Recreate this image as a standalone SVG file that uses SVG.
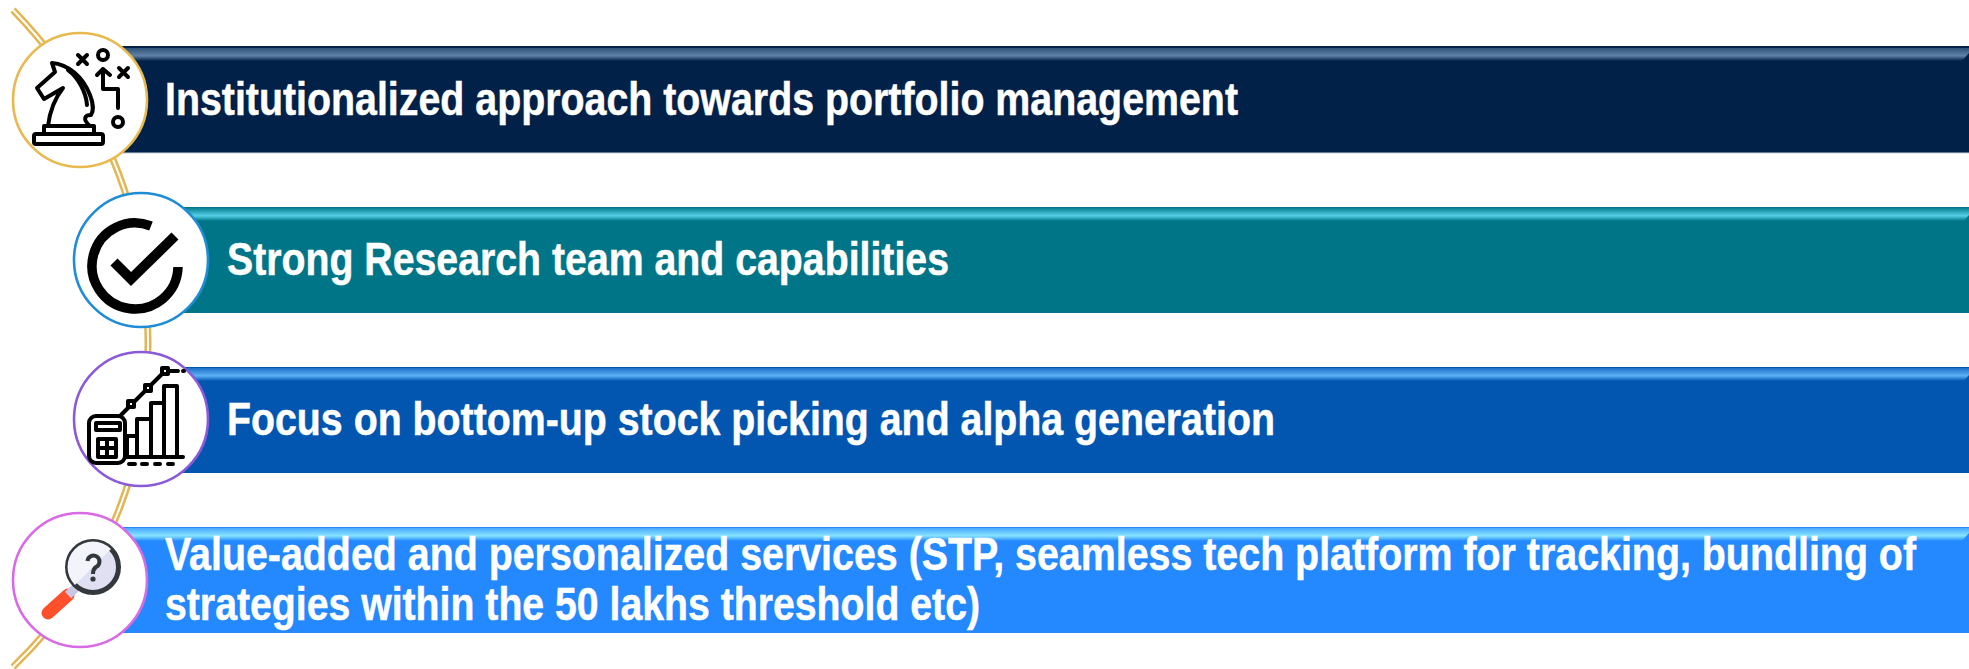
<svg xmlns="http://www.w3.org/2000/svg" width="1969" height="669" viewBox="0 0 1969 669">
<defs>
<linearGradient id="g1" x1="0" y1="0" x2="0" y2="1"><stop offset="0" stop-color="#2f5378"/><stop offset=".6" stop-color="#5f82a6"/><stop offset="1" stop-color="#012148"/></linearGradient>
<linearGradient id="g2" x1="0" y1="0" x2="0" y2="1"><stop offset="0" stop-color="#087f92"/><stop offset=".6" stop-color="#55d0e6"/><stop offset="1" stop-color="#007587"/></linearGradient>
<linearGradient id="g3" x1="0" y1="0" x2="0" y2="1"><stop offset="0" stop-color="#1c70c8"/><stop offset=".6" stop-color="#5cb0f5"/><stop offset="1" stop-color="#0256b0"/></linearGradient>
<linearGradient id="g4" x1="0" y1="0" x2="0" y2="1"><stop offset="0" stop-color="#4aa8ff"/><stop offset=".6" stop-color="#86e4ff"/><stop offset="1" stop-color="#2488fe"/></linearGradient>
</defs>
<style>
.t{font-family:"Liberation Sans",Arial,sans-serif;font-weight:700;fill:#fff;stroke:#fff;stroke-width:.5px;font-size:47px}
.ring{fill:#fff;stroke-width:2.6}
.ic{fill:none;stroke:#000;stroke-width:4;stroke-linejoin:round;stroke-linecap:round}
.arc{fill:none}
</style>
<g id="connectors">
<path class="arc" d="M13 10 Q148 150 148 340 Q150 535 13 667" stroke="#e2b654" stroke-width="7"/>
<path class="arc" d="M13 10 Q148 150 148 340 Q150 535 13 667" stroke="#fff" stroke-width="2"/>
</g>
<g id="node1">
<rect x="120" y="46" width="1849" height="107" fill="#012148"/>
<rect x="120" y="48" width="1849" height="13" fill="url(#g1)"/>
<path d="M1962 61L1969 53V61Z" fill="#012148"/>
<rect x="120" y="152.500" width="1849" height="1" fill="#c9d2de"/>
<circle class="ring" cx="80" cy="100" r="67" stroke="#e8b94e"/>
<g class="ic">
<rect x="34" y="134" width="69" height="10" rx="2"/>
<path d="M44 134V126H94V134"/>
<path d="M48 126C50 110 55 98 63 88L44 99L37 88L55 72L52 63C68 64 83 77 90 95C94 105 93 112 91 115C85 115 82 119 90 126"/>
<path d="M68 70C78 77 86 92 87 105"/>
<path d="M78 55L87 64M87 55L78 64M119 68L128 77M128 68L119 77"/>
<circle cx="103" cy="55" r="5"/>
<circle cx="118" cy="122" r="5"/>
<path d="M103 89V69M97 75L103 69L110 75M103 89H118V108"/>
</g>
<text class="t" x="165" y="115" textLength="1073" lengthAdjust="spacingAndGlyphs">Institutionalized approach towards portfolio management</text>
</g>
<g id="node2">
<rect x="180" y="207" width="1789" height="106" fill="#007587"/>
<rect x="180" y="208" width="1789" height="13" fill="url(#g2)"/>
<path d="M1964 221L1969 215V221Z" fill="#007587"/>
<circle class="ring" cx="141" cy="260" r="67" stroke="#1f8dd6"/>
<path d="M151 226A43 43 0 1 0 178 267" fill="none" stroke="#000" stroke-width="9.500"/>
<path d="M114 262L131 279L175 236" fill="none" stroke="#000" stroke-width="10"/>
<text class="t" x="227" y="275" textLength="722" lengthAdjust="spacingAndGlyphs">Strong Research team and capabilities</text>
</g>
<g id="node3">
<rect x="180" y="367" width="1789" height="106" fill="#0256b0"/>
<rect x="180" y="368" width="1789" height="13" fill="url(#g3)"/>
<path d="M1964 381L1969 375V381Z" fill="#0256b0"/>
<circle class="ring" cx="141" cy="419" r="67" stroke="#8a5ad8"/>
<g class="ic">
<rect x="89" y="416" width="36" height="47" rx="7"/>
<rect x="96" y="423" width="24" height="7"/>
<rect x="98" y="439" width="18" height="18"/>
<path d="M107 439V457M98 448H116"/>
<path d="M125 457H183"/>
<path d="M129 464H135M142 464H147M155 464H160M168 464H173"/>
<rect x="127" y="436" width="10" height="21"/>
<rect x="137" y="419" width="14" height="38"/>
<rect x="151" y="403" width="13" height="54"/>
<rect x="164" y="386" width="13" height="71"/>
<path d="M121 415L165 371H178M183 371H184"/>
<rect x="128" y="401" width="6" height="6" fill="#fff"/>
<rect x="145" y="385" width="6" height="6" fill="#fff"/>
<rect x="162" y="368" width="6" height="6" fill="#fff"/>
</g>
<text class="t" x="227" y="435" textLength="1048" lengthAdjust="spacingAndGlyphs">Focus on bottom-up stock picking and alpha generation</text>
</g>
<g id="node4">
<rect x="120" y="527" width="1849" height="106" fill="#2488fe"/>
<rect x="120" y="528" width="1849" height="13" fill="url(#g4)"/>
<path d="M1962 541L1969 533V541Z" fill="#2488fe"/>
<circle class="ring" cx="80" cy="580" r="67" stroke="#d96ae6"/>
<path d="M48 613L68 595" stroke="#ff4f2b" stroke-width="13" stroke-linecap="round"/>
<path d="M68 595L79 585" stroke="#c8c8e4" stroke-width="9"/>
<circle cx="93" cy="567" r="25.500" fill="#e0e0f2" stroke="#33383d" stroke-width="5"/>
<path d="M75 585A25 25 0 0 1 111 549Z" fill="#f3f3fb"/>
<path d="M87.500 561A6 6 0 1 1 96 567Q93 569 93 574" fill="none" stroke="#33383d" stroke-width="4"/>
<circle cx="93" cy="579" r="2.600" fill="#33383d"/>
<text class="t" x="165" y="570" textLength="1751" lengthAdjust="spacingAndGlyphs">Value-added and personalized services (STP, seamless tech platform for tracking, bundling of</text>
<text class="t" x="165" y="620" textLength="815" lengthAdjust="spacingAndGlyphs">strategies within the 50 lakhs threshold etc)</text>
</g>
</svg>
